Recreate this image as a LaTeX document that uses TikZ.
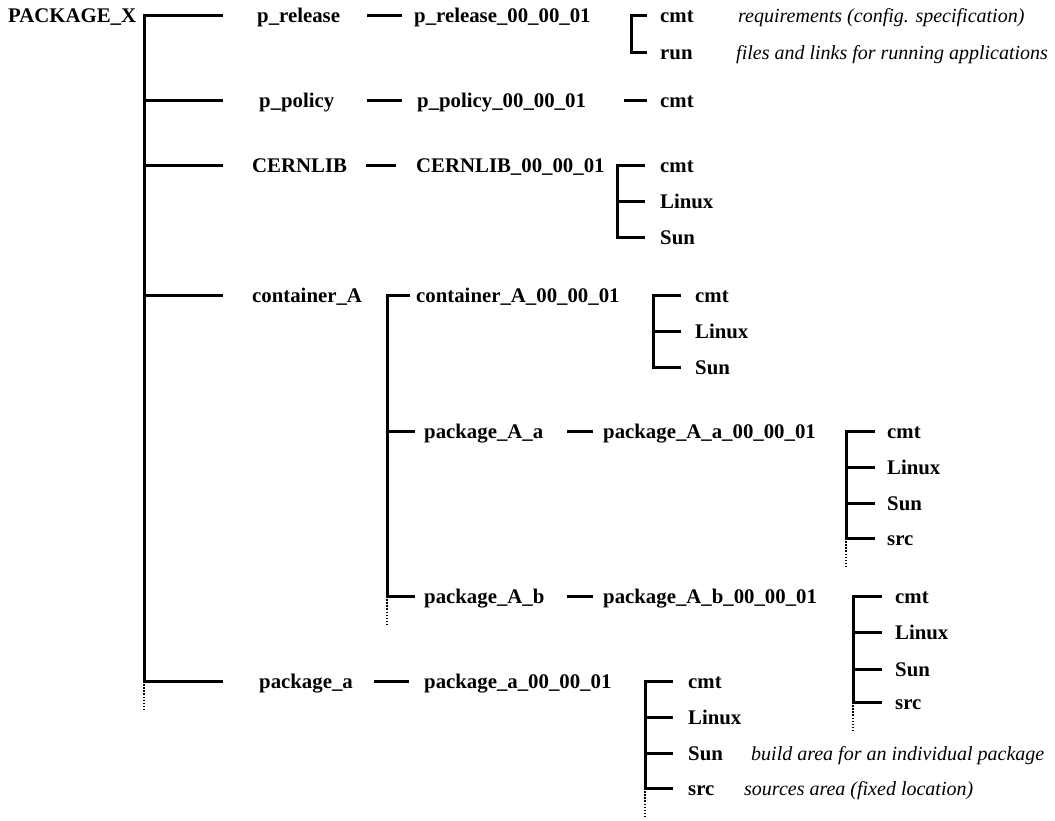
\documentclass[tikz,border=0pt]{standalone}
\usepackage{fontspec}
\setmainfont{Liberation Serif}
\begin{document}
\begin{tikzpicture}[x=1pt,y=-1pt,
  lbl/.style={anchor=base west, inner sep=0pt, font=\fontsize{20.8}{24}\selectfont\bfseries},
  note/.style={anchor=base west, inner sep=0pt, font=\fontsize{20.0}{24}\selectfont\itshape},
  ln/.style={line width=3pt, line join=miter},
  dots/.style={line width=1.6pt, dash pattern=on 1.5pt off 1.6pt}]
\useasboundingbox (0,0) rectangle (1055,821);

% ---- level 0 / 1 / 2 labels
\node[lbl] (root) at (8,23) {PACKAGE\_X};
\node[lbl] (a1) at (257,23) {p\_release};
\node[lbl] (a2) at (259,108) {p\_policy};
\node[lbl] (a3) at (252,173) {CERNLIB};
\node[lbl] (a4) at (252,302) {container\_A};
\node[lbl] (a5) at (259,688) {package\_a};
\node[lbl] (b1) at (414,23) {p\_release\_00\_00\_01};
\node[lbl] (b2) at (417,108) {p\_policy\_00\_00\_01};
\node[lbl] (b3) at (416,173) {CERNLIB\_00\_00\_01};
\node[lbl] (b4) at (416,302) {container\_A\_00\_00\_01};
\node[lbl] (b5) at (424,688) {package\_a\_00\_00\_01};
\node[lbl] (c1) at (424,438) {package\_A\_a};
\node[lbl] (c2) at (424,603) {package\_A\_b};
\node[lbl] (d1) at (603,438) {package\_A\_a\_00\_00\_01};
\node[lbl] (d2) at (603,603) {package\_A\_b\_00\_00\_01};

% ---- leaves
\node[lbl] (l11) at (660,23) {cmt};
\node[lbl] (l12) at (660,60) {run};
\node[note] (n11) at (738,23) {requirements (config. specification)};
\node[note] (n12) at (736,60) {files and links for running applications};
\node[lbl] (l21) at (660,108) {cmt};
\node[lbl] (l31) at (660,173) {cmt};
\node[lbl] (l32) at (660,209) {Linux};
\node[lbl] (l33) at (660,245) {Sun};
\node[lbl] (l41) at (695,302) {cmt};
\node[lbl] (l42) at (695,338) {Linux};
\node[lbl] (l43) at (695,374) {Sun};
\node[lbl] (l51) at (887,438) {cmt};
\node[lbl] (l52) at (887,474) {Linux};
\node[lbl] (l53) at (887,510) {Sun};
\node[lbl] (l54) at (887,545) {src};
\node[lbl] (l61) at (895,603) {cmt};
\node[lbl] (l62) at (895,639) {Linux};
\node[lbl] (l63) at (895,676) {Sun};
\node[lbl] (l64) at (895,709) {src};
\node[lbl] (l71) at (688,688) {cmt};
\node[lbl] (l72) at (688,724) {Linux};
\node[lbl] (l73) at (688,760) {Sun};
\node[lbl] (l74) at (688,795) {src};
\node[note] (n73) at (751,760) {build area for an individual package};
\node[note] (n74) at (744,795) {sources area (fixed location)};

% ---- main trunk
\coordinate (T0) at (144,16);
\coordinate (T5) at (144,681);
\coordinate (Te) at (144,710);
\draw[ln] (223,16) -- (T0) -- (T5);
\draw[dots] (T5) -- (Te);
\foreach \y in {101,166,295,681} \draw[ln] (144,\y) -- (223,\y);

% ---- dashes level1 -> level2
\draw[ln] (367,16) -- (402,16);
\draw[ln] (367,101) -- (402,101);
\draw[ln] (366,166) -- (396,166);
\draw[ln] (374,681) -- (409,681);

% ---- container_A bracket
\coordinate (C0) at (387,295);
\coordinate (C2) at (387,596);
\draw[ln] (410,295) -- (C0) -- (C2);
\draw[dots] (C2) -- (387,626);
\draw[ln] (387,431) -- (415,431);
\draw[ln] (387,596) -- (415,596);
\draw[ln] (567,431) -- (593,431);
\draw[ln] (567,596) -- (593,596);

% ---- leaf brackets
\draw[ln] (647,16) -- (631,16) -- (631,53) -- (647,53);
\draw[ln] (624,101) -- (647,101);
\draw[ln] (645,166) -- (617,166) -- (617,238) -- (645,238);
\draw[ln] (617,202) -- (645,202);
\draw[ln] (681,295) -- (653,295) -- (653,367) -- (681,367);
\draw[ln] (653,331) -- (681,331);

\draw[ln] (875,431) -- (846,431) -- (846,538);
\foreach \y in {467,503,538} \draw[ln] (846,\y) -- (875,\y);
\draw[dots] (846,538) -- (846,567);

\draw[ln] (882,596) -- (853,596) -- (853,702);
\foreach \y in {632,669,702} \draw[ln] (853,\y) -- (882,\y);
\draw[dots] (853,702) -- (853,731);

\draw[ln] (673,681) -- (645,681) -- (645,788);
\foreach \y in {717,753,788} \draw[ln] (645,\y) -- (673,\y);
\draw[dots] (645,788) -- (645,817);
\end{tikzpicture}
\end{document}
